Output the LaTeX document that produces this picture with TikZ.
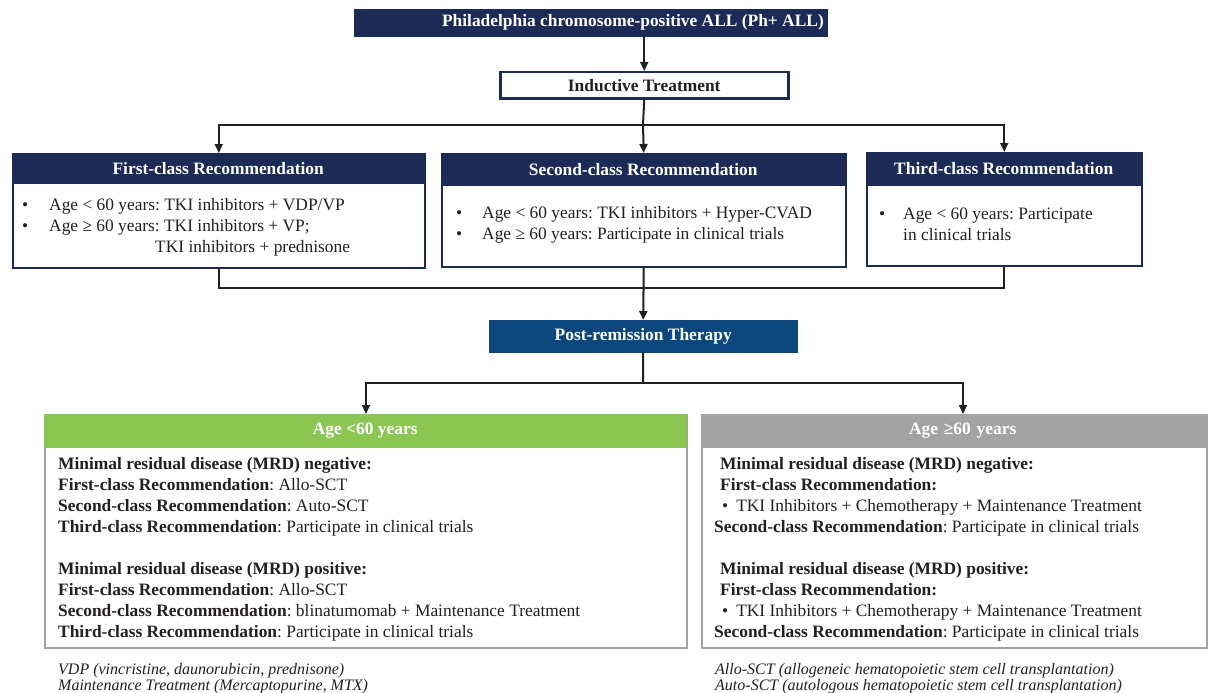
\documentclass[tikz,border=0pt]{standalone}
\usepackage{fontspec}
\setmainfont{Liberation Serif}
\frenchspacing
\usetikzlibrary{arrows.meta}
\definecolor{navy}{HTML}{1C2A56}
\definecolor{pblue}{HTML}{0B477D}
\definecolor{lgreen}{HTML}{8BC653}
\definecolor{lgray}{HTML}{A3A3A3}
\definecolor{ink}{HTML}{231F20}
\begin{document}
\begin{tikzpicture}[x=1pt,y=-1pt,
  nframe/.style={draw=navy, line width=1.5pt, fill=white, inner sep=0pt, anchor=north west},
  gframe/.style={draw=lgray, line width=2pt, fill=white, inner sep=0pt, anchor=north west},
  head/.style={fill=#1, draw=#1, text=white, inner sep=0pt, anchor=north west, font=\bfseries\fontsize{17.4}{20}\selectfont},
  txt/.style={anchor=base west, inner sep=0pt, text=ink, font=\fontsize{17.4}{20}\selectfont},
  foot/.style={anchor=base west, inner sep=0pt, text=ink, font=\itshape\fontsize{16}{18}\selectfont},
  ln/.style={draw=ink, line width=2pt},
  arr/.style={draw=ink, line width=2pt, -{Triangle[length=9pt,width=8pt]}}]
\clip (0,0) rectangle (1208,693);
\fill[white] (0,0) rectangle (1208,693);

% title
\node[head=navy, minimum width=473pt, minimum height=27pt] (title) at (354,9) {};
\node[anchor=east, inner sep=0pt, text=white, font=\bfseries\fontsize{17.4}{20}\selectfont] (titletxt) at (824,22.5) {Philadelphia chromosome-positive ALL (Ph+ ALL)};

% inductive
\node[draw=navy, line width=2.5pt, fill=white, inner sep=0pt, anchor=north west, minimum width=288pt, minimum height=26pt, text=ink, font=\bfseries\fontsize{17.4}{20}\selectfont] (ind) at (499,71) {Inductive Treatment};

% box 1
\node[nframe, minimum width=412pt, minimum height=114pt] (b1) at (12,153) {};
\node[head=navy, minimum width=412pt, minimum height=30pt] (h1) at (12,153) {First-class Recommendation};
\node[txt] (t11) at (22,210) {•};
\node[txt] (t12) at (49,210) {Age < 60 years: TKI inhibitors + VDP/VP};
\node[txt] (t13) at (22,231) {•};
\node[txt] (t14) at (49,231) {Age ≥ 60 years: TKI inhibitors + VP;};
\node[txt] (t15) at (155,252) {TKI inhibitors + prednisone};

% box 2
\node[nframe, minimum width=404pt, minimum height=113pt] (b2) at (441,153) {};
\node[head=navy, minimum width=404pt, minimum height=32pt] (h2) at (441,153) {Second-class Recommendation};
\node[txt] (t21) at (456,218) {•};
\node[txt] (t22) at (482,218) {Age < 60 years: TKI inhibitors + Hyper-CVAD};
\node[txt] (t23) at (456,239) {•};
\node[txt] (t24) at (482,239) {Age ≥ 60 years: Participate in clinical trials};

% box 3
\node[nframe, minimum width=275pt, minimum height=113pt] (b3) at (866,152) {};
\node[head=navy, minimum width=275pt, minimum height=33pt] (h3) at (866,152) {Third-class Recommendation};
\node[txt] (t31) at (879,219) {•};
\node[txt] (t32) at (903,219) {Age < 60 years: Participate};
\node[txt] (t33) at (903,240) {in clinical trials};

% post-remission
\node[head=pblue, minimum width=308pt, minimum height=32pt] (post) at (489,320) {Post-remission Therapy};

% lower left
\node[gframe, minimum width=642pt, minimum height=233pt] (ll) at (44,414) {};
\node[head=lgreen, minimum width=642pt, minimum height=33pt] (hl) at (44,414) {Age <60 years};
\node[txt] (l1) at (58,469) {\textbf{Minimal residual disease (MRD) negative:}};
\node[txt] (l2) at (58,490) {\textbf{First-class Recommendation}: Allo-SCT};
\node[txt] (l3) at (58,511) {\textbf{Second-class Recommendation}: Auto-SCT};
\node[txt] (l4) at (58,532) {\textbf{Third-class Recommendation}: Participate in clinical trials};
\node[txt] (l5) at (58,574) {\textbf{Minimal residual disease (MRD) positive:}};
\node[txt] (l6) at (58,595) {\textbf{First-class Recommendation}: Allo-SCT};
\node[txt] (l7) at (58,616) {\textbf{Second-class Recommendation}: blinatumomab + Maintenance Treatment};
\node[txt] (l8) at (58,637) {\textbf{Third-class Recommendation}: Participate in clinical trials};

% lower right
\node[gframe, minimum width=505pt, minimum height=233pt] (lr) at (701,414) {};
\node[head=lgray, minimum width=505pt, minimum height=33pt, text width=505pt, align=center] (hr) at (701,414) {\hspace*{18pt}Age ≥60 years};
\node[txt] (r1) at (720,469) {\textbf{Minimal residual disease (MRD) negative:}};
\node[txt] (r2) at (720,490) {\textbf{First-class Recommendation:}};
\node[txt] (r3) at (722,511) {•\hspace{8pt}TKI Inhibitors + Chemotherapy + Maintenance Treatment};
\node[txt] (r4) at (714,532) {\textbf{Second-class Recommendation}: Participate in clinical trials};
\node[txt] (r5) at (720,574) {\textbf{Minimal residual disease (MRD) positive:}};
\node[txt] (r6) at (720,595) {\textbf{First-class Recommendation:}};
\node[txt] (r7) at (722,616) {•\hspace{8pt}TKI Inhibitors + Chemotherapy + Maintenance Treatment};
\node[txt] (r8) at (714,637) {\textbf{Second-class Recommendation}: Participate in clinical trials};

% footnotes
\node[foot] (f1) at (58,674) {VDP (vincristine, daunorubicin, prednisone)};
\node[foot] (f2) at (58,690) {Maintenance Treatment (Mercaptopurine, MTX)};
\node[foot] (f3) at (715,674) {Allo-SCT (allogeneic hematopoietic stem cell transplantation)};
\node[foot] (f4) at (715,690) {Auto-SCT (autologous hematopoietic stem cell transplantation)};

% connectors
\coordinate (j1) at (643,125);
\coordinate (j2) at (643,288);
\coordinate (j3) at (643,383);
\coordinate (rt) at (963,414);
\draw[arr] (title.south -| ind.north) -- (ind.north);
\draw[ln] (ind.south) -- (j1);
\draw[arr] (j1) -| (b1.north);
\draw[arr] (j1) -- (b2.north);
\draw[arr] (j1) -| (b3.north);
\draw[ln] (b1.south) |- (j2);
\draw[ln] (b3.south) |- (j2);
\draw[arr] (b2.south) -- (post.north);
\draw[ln] (post.south) -- (j3);
\draw[arr] (j3) -| (ll.north);
\draw[arr] (j3) -| (rt);
\end{tikzpicture}
\end{document}
